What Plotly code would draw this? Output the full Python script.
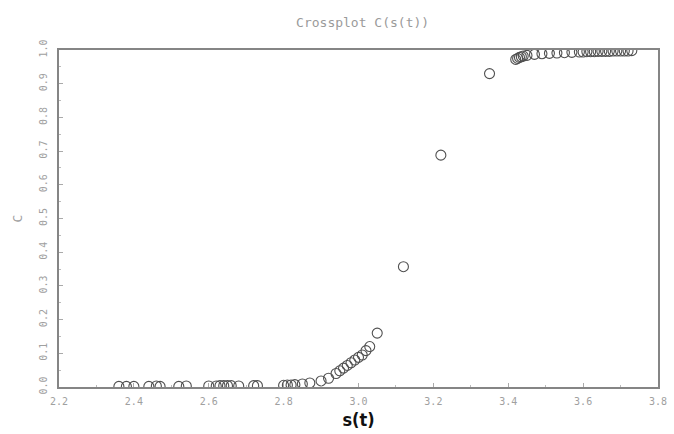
import plotly.graph_objects as go

title_text = "Crossplot C(s(t))"
x_title = "s(t)"
y_title = "C"

s_vals = [2.36, 2.38, 2.40, 2.44, 2.46, 2.47, 2.52, 2.54, 2.60, 2.62, 2.63, 2.64,
          2.65, 2.66, 2.68, 2.72, 2.73, 2.80, 2.81, 2.82, 2.83, 2.85,
          2.87, 2.90, 2.92, 2.94, 2.95, 2.96, 2.97, 2.98, 2.99, 3.00, 3.01, 3.02,
          3.03, 3.05,
          3.12, 3.22, 3.35,
          3.42, 3.425, 3.43, 3.435, 3.44, 3.45, 3.47, 3.49, 3.51, 3.53, 3.55, 3.57,
          3.59, 3.60, 3.61, 3.62, 3.63, 3.64, 3.65, 3.66, 3.67, 3.68, 3.69, 3.70,
          3.71, 3.72, 3.73]
c_vals = [0.002, 0.002, 0.002, 0.002, 0.003, 0.002, 0.002, 0.003, 0.003, 0.003, 0.004, 0.004,
          0.004, 0.004, 0.003, 0.004, 0.004, 0.005, 0.006, 0.006, 0.007, 0.009,
          0.012, 0.018, 0.026, 0.040, 0.048, 0.056, 0.064, 0.072, 0.080, 0.088, 0.095, 0.108,
          0.120, 0.160,
          0.357, 0.688, 0.930,
          0.972, 0.975, 0.978, 0.980, 0.982, 0.984, 0.987, 0.989, 0.990, 0.991, 0.992, 0.993,
          0.994, 0.994, 0.995, 0.995, 0.995, 0.996, 0.996, 0.996, 0.996, 0.997, 0.997, 0.997,
          0.997, 0.997, 0.998]

x_ticks = [2.2, 2.4, 2.6, 2.8, 3.0, 3.2, 3.4, 3.6, 3.8]
x_labels = ["2.2", "2.4", "2.6", "2.8", "3.0", "3.2", "3.4", "3.6", "3.8"]
y_ticks = [0.0, 0.1, 0.2, 0.3, 0.4, 0.5, 0.6, 0.7, 0.8, 0.9, 1.0]
y_labels = ["0.0", "0.1", "0.2", "0.3", "0.4", "0.5", "0.6", "0.7", "0.8", "0.9", "1.0"]

fig = go.Figure()
fig.add_trace(go.Scatter(
    x=s_vals, y=c_vals, mode="markers",
    marker=dict(symbol="circle-open", size=10, color="#505050", line=dict(width=1.1)),
    showlegend=False,
))

mono = "DejaVu Sans Mono"
fig.update_layout(
    width=674, height=434,
    margin=dict(l=59, r=7, t=50, b=42),
    paper_bgcolor="white", plot_bgcolor="white",
    title=dict(text=title_text, x=0.538, xanchor="center", y=0.949, yanchor="middle",
               font=dict(family=mono, size=13, color="#9a9a9a")),
    xaxis=dict(
        range=[2.2, 3.8], tickvals=x_ticks, ticktext=x_labels,
        showgrid=False, zeroline=False,
        showline=True, mirror=True, linecolor="#858585", linewidth=2,
        ticks="inside", ticklen=4, tickcolor="#aaaaaa",
        minor=dict(ticks="inside", ticklen=2, dtick=0.1, tickcolor="#bbbbbb"),
        ticklabelstandoff=4, ticklabeloverflow="allow",
        tickfont=dict(family=mono, size=10, color="#a0a0a0"),
        title=dict(text=x_title, standoff=7,
                   font=dict(family="Liberation Sans Narrow, DejaVu Sans Condensed", size=18,
                             color="#111111", weight="bold")),
    ),
    yaxis=dict(
        range=[0.0, 1.0], tickvals=y_ticks, ticktext=y_labels,
        showgrid=False, zeroline=False,
        showline=True, mirror=True, linecolor="#858585", linewidth=2,
        ticks="inside", ticklen=4, tickcolor="#aaaaaa",
        minor=dict(ticks="inside", ticklen=2, dtick=0.05, tickcolor="#bbbbbb"),
        tickangle=-90, ticklabelstandoff=6,
        tickfont=dict(family=mono, size=10, color="#a0a0a0"),
        title=dict(text=y_title, standoff=12,
                   font=dict(family=mono, size=13, color="#a0a0a0")),
    ),
)

fig.write_html("out.html", config={"displayModeBar": False},
               post_script="document.body.style.margin='0';")
